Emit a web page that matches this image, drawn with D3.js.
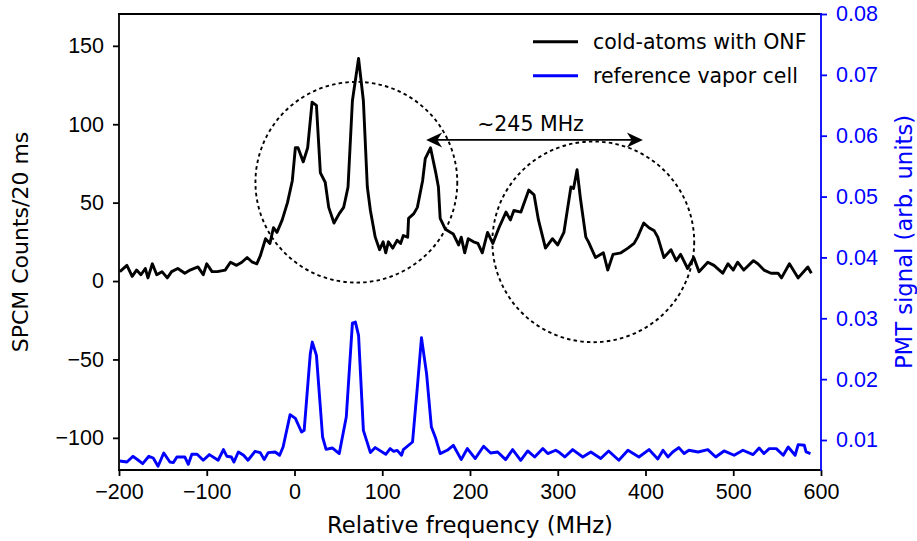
<!DOCTYPE html>
<html>
<head>
<meta charset="utf-8">
<script src="https://cdn.jsdelivr.net/npm/d3@7"></script>
<style>
  body { margin: 0; background: #fff; }
  svg { font-family: 'DejaVu Sans', sans-serif; }
  .axis text { font-size: 21.5px; }
  .axis path, .axis line { stroke-width: 1.8; }
</style>
</head>
<body>
<div id="container"></div>
<script>

//---------------------
// DATA
//---------------------

// cold atoms seen through the nanofiber (left axis, counts / 20 ms)
const onfFreq = [-199, -191, -185, -180, -175, -170, -167, -162, -157, -151, -145, -140, -133, -125, -119, -110, -104, -100, -94, -88, -79, -73, -66, -60, -54, -48, -43, -39, -33, -28, -24, -20, -14, -8, -2.5, 1, 4, 10, 15, 20, 25, 29.5, 35, 39, 45, 51, 56, 58, 61, 66, 73, 78.5, 83, 86.5, 92, 97, 101, 104, 107, 112, 117, 121, 124, 129, 130, 136, 140, 146, 149, 155, 161, 164, 166, 172, 178, 181, 187, 190, 194, 198, 204, 209, 214, 220, 226, 233, 241, 246, 250, 258, 267, 273, 278, 286, 294, 300, 307, 315, 318, 322, 326, 332, 335, 343, 352, 357, 363, 372, 380, 387, 391, 398, 404, 410, 414, 421, 429, 435, 440, 448, 455, 461, 471, 478, 488, 494, 500, 505, 512, 523, 528, 535, 543, 551, 555, 564, 574, 585, 589];
const onfCounts = [6, 10, 3, 7, 4, 8, 2, 11, 4, 6, 2, 6, 8, 5, 7, 9, 4, 11, 6, 6, 7, 12, 10, 12, 15, 12, 11, 16, 27, 24, 34, 31, 39, 50, 64, 85, 85, 76, 85, 114, 112, 69, 63, 47, 37, 43, 47, 52, 60, 115, 142, 115, 60, 45, 28, 20, 25, 18, 25, 21, 26, 24, 29, 28, 40, 43, 47, 64, 78, 85, 69, 60, 40, 33, 31, 30, 23, 28, 18, 27, 25, 24, 18, 31, 24, 34, 44, 39, 45, 44, 58, 55, 39, 21, 27, 23, 31, 60, 59, 71, 52, 28, 25, 15, 18, 7, 17, 18, 21, 24, 28, 37, 34, 32, 28, 15, 20, 13, 17, 8, 15, 6, 12, 10, 5, 11, 7, 12, 7, 13, 11, 7, 5, 5, 2, 11, 2, 9, 5];

// reference vapor cell (right axis, PMT signal)
const cellFreq = [-199, -191, -184, -178, -173, -166, -161, -155.5, -149, -142, -138, -134, -125, -121, -117, -111, -104, -97, -87, -81, -77, -72, -69, -64, -58, -53, -45, -39, -34.5, -30, -22, -17, -13, -5, 1, 8, 11, 18, 20.3, 25, 32, 36, 43, 51, 59, 66, 69.4, 73, 78.5, 86.5, 92, 104, 109, 113, 117, 122, 124, 134.5, 140, 144.7, 150.5, 156, 161, 166, 174, 181, 190, 197, 206, 215.5, 223.5, 231.5, 240.6, 248.6, 257.8, 265.8, 273.7, 283, 288.6, 297.7, 301, 308, 317, 328.5, 337.7, 349, 358, 369.6, 380, 392.5, 404, 414, 420, 425.6, 431, 438, 444, 449.5, 460, 471, 480, 489.5, 501, 511, 522.6, 529.5, 535, 541, 549, 557, 562.6, 570.5, 574, 581, 583, 588];
const cellPmt = [0.00655, 0.00639, 0.00732, 0.00667, 0.00612, 0.00732, 0.00704, 0.00568, 0.00787, 0.00639, 0.00629, 0.00721, 0.00721, 0.00601, 0.00765, 0.00765, 0.00667, 0.0076, 0.00667, 0.00842, 0.00732, 0.00721, 0.00639, 0.00803, 0.00749, 0.00667, 0.00814, 0.00793, 0.00678, 0.00793, 0.00803, 0.00749, 0.00885, 0.01417, 0.01356, 0.01131, 0.01159, 0.02419, 0.02609, 0.02391, 0.01049, 0.00847, 0.00869, 0.00777, 0.01378, 0.02921, 0.02938, 0.02719, 0.01159, 0.00793, 0.00875, 0.00765, 0.00859, 0.00814, 0.0083, 0.00749, 0.00842, 0.00967, 0.0187, 0.02681, 0.0209, 0.01213, 0.01023, 0.00777, 0.00831, 0.00913, 0.00678, 0.00859, 0.00695, 0.00897, 0.00787, 0.00803, 0.00678, 0.00842, 0.00667, 0.0082, 0.00721, 0.00859, 0.00777, 0.00831, 0.00803, 0.00721, 0.00842, 0.00721, 0.00803, 0.00695, 0.0082, 0.00667, 0.00831, 0.00721, 0.00842, 0.00688, 0.00831, 0.00721, 0.00803, 0.00875, 0.00777, 0.00831, 0.00803, 0.00842, 0.00721, 0.0082, 0.00749, 0.00831, 0.0076, 0.00869, 0.00777, 0.00859, 0.00859, 0.00749, 0.00885, 0.00749, 0.00924, 0.00913, 0.00803, 0.00777];

// tick values
const freqTicks = [-200, -100, 0, 100, 200, 300, 400, 500, 600];
const countTicks = [-100, -50, 0, 50, 100, 150];
const pmtTicks = [0.01, 0.02, 0.03, 0.04, 0.05, 0.06, 0.07, 0.08];

// dotted circles round the two line groups: [centre freq, centre counts]
const groupCentres = [[70.5, 63], [340.5, 25]];
const groupRadius = { freq: 115, counts: 64 };

// splitting arrow and its label
const splitFrom = 150;
const splitTo = 397;
const splitLevel = 90;
const splitLabel = '~245 MHz';

const legendNames = ['cold-atoms with ONF', 'reference vapor cell'];

//---------------------
// SVG + DIMENSIONS
//---------------------

const W = 917, H = 541;
const margin = { top: 14, right: 96, bottom: 71, left: 119 };
const BLUE = '#0000ff';

const svg = d3.select('#container')
              .append('svg')
              .attr('width', W)
              .attr('height', H);

//---------------------
// SCALES
//---------------------

const x = d3.scaleLinear()
            .domain([-200, 600])
            .range([margin.left, W - margin.right]);

const yLeft = d3.scaleLinear()
                .domain([-120.5, 170.3])
                .range([H - margin.bottom, margin.top]);

const yRight = d3.scaleLinear()
                 .domain([0.00507, 0.08])
                 .range([H - margin.bottom, margin.top]);

//---------------------
// DATA LINES
//---------------------

const onfData = onfFreq.map((f, i) => ({ f, v: onfCounts[i] }));
const cellData = cellFreq.map((f, i) => ({ f, v: cellPmt[i] }));

svg.append('path')
   .datum(cellData)
   .attr('fill', 'none')
   .attr('stroke', BLUE)
   .attr('stroke-width', 2.9)
   .attr('stroke-linejoin', 'round')
   .attr('d', d3.line().x(d => x(d.f)).y(d => yRight(d.v)));

svg.append('path')
   .datum(onfData)
   .attr('fill', 'none')
   .attr('stroke', '#000')
   .attr('stroke-width', 2.9)
   .attr('stroke-linejoin', 'round')
   .attr('d', d3.line().x(d => x(d.f)).y(d => yLeft(d.v)));

//---------------------
// ANNOTATIONS
//---------------------

svg.selectAll('ellipse.group')
   .data(groupCentres)
   .enter()
   .append('ellipse')
   .attr('class', 'group')
   .attr('cx', d => x(d[0]))
   .attr('cy', d => yLeft(d[1]))
   .attr('rx', d => x(d[0] + groupRadius.freq) - x(d[0]))
   .attr('ry', d => yLeft(d[1]) - yLeft(d[1] + groupRadius.counts))
   .attr('fill', 'none')
   .attr('stroke', '#000')
   .attr('stroke-width', 1.9)
   .attr('stroke-dasharray', '3.5,3.2');

// double headed arrow
const ax1 = x(splitFrom), ax2 = x(splitTo), ay = yLeft(splitLevel);
const head = (tip, dir) => {
  const l = 16, w = 7.5;
  return `M${tip},${ay} L${tip + dir * l},${ay - w} L${tip + dir * l * 0.7},${ay} L${tip + dir * l},${ay + w} Z`;
};
svg.append('line')
   .attr('x1', ax1 + 8).attr('x2', ax2 - 8)
   .attr('y1', ay).attr('y2', ay)
   .attr('stroke', '#000')
   .attr('stroke-width', 1.9);
svg.append('path').attr('d', head(ax1, 1)).attr('fill', '#000');
svg.append('path').attr('d', head(ax2, -1)).attr('fill', '#000');

svg.append('text')
   .attr('x', x((splitFrom + splitTo) / 2) - 4)
   .attr('y', yLeft(splitLevel) - 9)
   .attr('text-anchor', 'middle')
   .attr('font-size', 20.5)
   .text(splitLabel);

//---------------------
// AXES
//---------------------

const gx = svg.append('g')
              .attr('class', 'axis')
              .attr('transform', `translate(0, ${H - margin.bottom})`)
              .call(d3.axisBottom(x).tickValues(freqTicks).tickSizeInner(6).tickSizeOuter(0).tickPadding(8));

const gl = svg.append('g')
              .attr('class', 'axis')
              .attr('transform', `translate(${margin.left}, 0)`)
              .call(d3.axisLeft(yLeft).tickValues(countTicks).tickSizeInner(6).tickSizeOuter(0).tickPadding(9));

const gr = svg.append('g')
              .attr('class', 'axis')
              .attr('transform', `translate(${W - margin.right}, 0)`)
              .call(d3.axisRight(yRight).tickValues(pmtTicks).tickFormat(d3.format('.2f')).tickSizeInner(6).tickSizeOuter(0).tickPadding(9));

// spines drawn over the full frame
gx.select('.domain').remove();
gl.select('.domain').remove();
gr.select('.domain').remove();
gr.selectAll('line').attr('stroke', BLUE);
gr.selectAll('text').attr('fill', BLUE);

const frame = [
  [margin.left, margin.top, W - margin.right, margin.top, '#000'],
  [margin.left, H - margin.bottom, W - margin.right, H - margin.bottom, '#000'],
  [margin.left, margin.top, margin.left, H - margin.bottom, '#000'],
  [W - margin.right, margin.top, W - margin.right, H - margin.bottom, BLUE]
];
svg.selectAll('line.spine')
   .data(frame)
   .enter()
   .append('line')
   .attr('class', 'spine')
   .attr('x1', d => d[0]).attr('y1', d => d[1])
   .attr('x2', d => d[2]).attr('y2', d => d[3])
   .attr('stroke', d => d[4])
   .attr('stroke-width', 1.8)
   .attr('stroke-linecap', 'square');

// axis titles
svg.append('text')
   .attr('x', (margin.left + W - margin.right) / 2)
   .attr('y', 533)
   .attr('text-anchor', 'middle')
   .attr('font-size', 22.7)
   .text('Relative frequency (MHz)');

svg.append('text')
   .attr('transform', `translate(28, ${(margin.top + H - margin.bottom) / 2}) rotate(-90)`)
   .attr('text-anchor', 'middle')
   .attr('font-size', 22)
   .text('SPCM Counts/20 ms');

svg.append('text')
   .attr('transform', `translate(912, ${(margin.top + H - margin.bottom) / 2}) rotate(-90)`)
   .attr('text-anchor', 'middle')
   .attr('font-size', 22.7)
   .attr('fill', BLUE)
   .text('PMT signal (arb. units)');

//---------------------
// LEGEND
//---------------------

const legend = svg.append('g')
                  .selectAll('g')
                  .data(legendNames)
                  .enter()
                  .append('g')
                  .attr('transform', (d, i) => `translate(533, ${41.7 + i * 34})`);

legend.append('line')
      .attr('x1', 0).attr('x2', 45)
      .attr('stroke', (d, i) => i === 0 ? '#000' : BLUE)
      .attr('stroke-width', 2.9);

legend.append('text')
      .attr('x', 60)
      .attr('dy', '0.35em')
      .attr('font-size', 20.5)
      .text(d => d);

</script>
</body>
</html>
